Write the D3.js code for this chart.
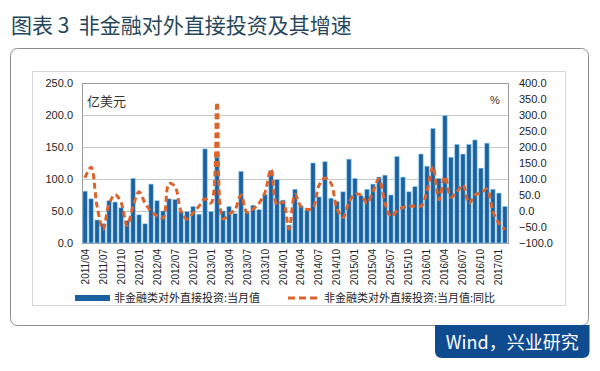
<!DOCTYPE html>
<html lang="zh">
<head>
  <meta charset="UTF-8">
  <title>非金融对外直接投资及其增速</title>
  <script src="https://d3js.org/d3.v7.min.js"></script>
  <style>
    html, body {
      margin: 0;
      padding: 0;
      background: #fff;
    }

    #svgScene {
      display: block;
      width: 600px;
      height: 371px;
    }

    .axis text {
      font-family: "Liberation Sans", Arial, sans-serif;
      fill: #222;
    }

    .axis path, .axis line {
      stroke: none;
    }

    .title {
      white-space: pre;
    }
  </style>
</head>
<body>
  <svg id="svgScene" width="600" height="371"></svg>

  <script>
    // monthly data, 2011/04 .. 2017/02
    const months = [
      "2011/04","2011/05","2011/06","2011/07","2011/08","2011/09","2011/10","2011/11","2011/12",
      "2012/01","2012/02","2012/03","2012/04","2012/05","2012/06","2012/07","2012/08","2012/09","2012/10","2012/11","2012/12",
      "2013/01","2013/02","2013/03","2013/04","2013/05","2013/06","2013/07","2013/08","2013/09","2013/10","2013/11","2013/12",
      "2014/01","2014/02","2014/03","2014/04","2014/05","2014/06","2014/07","2014/08","2014/09","2014/10","2014/11","2014/12",
      "2015/01","2015/02","2015/03","2015/04","2015/05","2015/06","2015/07","2015/08","2015/09","2015/10","2015/11","2015/12",
      "2016/01","2016/02","2016/03","2016/04","2016/05","2016/06","2016/07","2016/08","2016/09","2016/10","2016/11","2016/12",
      "2017/01","2017/02"
    ];

    // 当月值, 亿美元
    const monthValues = [
      81, 69, 36, 30, 66, 64, 55, 35, 101,
      44, 30, 92, 66, 50, 69, 68, 49, 49, 57, 45, 147,
      49, 134, 50, 57, 46, 112, 49, 59, 52, 76, 113, 99,
      67, 28, 84, 58, 51, 125, 72, 127, 70, 65, 80, 131,
      101, 74, 84, 92, 103, 106, 75, 135, 103, 80, 88, 139,
      120, 179, 101, 199, 134, 154, 139, 154, 161, 117, 156, 84,
      78, 57
    ];

    // 当月值:同比, %
    const yoyValues = [
      104, 137, 15, -57, 22, 51, 27, -45, 15,
      60, 25, -1, -15, -22, 86, 76, -1, -25, -6, 15, 38,
      25, 340, -25, -10, 4, 50, -4, 6, 24, 58, 130, 20,
      28, -56, 52, 14, 5, 10, 80, 103, 87, 7, -20, 27,
      53, 50, 25, 61, 100, 25, -17, 1, 11, 15, 15, 15,
      61, 139, 35, 108, 43, 60, 81, 24, 50, 56, 69, -1,
      -39, -58
    ];

    const leftTicks = [0, 50, 100, 150, 200, 250];
    const rightTicks = [-100, -50, 0, 50, 100, 150, 200, 250, 300, 350, 400];
    const xTickLabels = months.filter((m, i) => i % 3 === 0);

    const barName = "非金融类对外直接投资:当月值";
    const lineName = "非金融类对外直接投资:当月值:同比";

    const svgScene = d3.select("#svgScene");
    const cjkFont = '"Noto Sans CJK SC", "Noto Sans", sans-serif';

    const plot = { left: 82, right: 508, top: 83, bottom: 243 };

    const xScale = d3.scaleBand()
      .domain(months)
      .range([plot.left, plot.right])
      .paddingInner(0.28)
      .paddingOuter(0.15);

    const yLeft = d3.scaleLinear().domain([0, 250]).range([plot.bottom, plot.top]);
    const yRight = d3.scaleLinear().domain([-100, 400]).range([plot.bottom, plot.top]);

    drawFrame();
    drawGrid();
    drawBars();
    drawLine();
    drawAxes();
    drawLegend();

    function drawFrame() {
      svgScene.append("text")
        .attr("class", "title")
        .attr("x", 11)
        .attr("y", 33)
        .attr("font-family", cjkFont)
        .attr("font-size", 21)
        .attr("fill", "#26465a")
        .text("图表 3  非金融对外直接投资及其增速");

      // outer rounded box
      svgScene.append("rect")
        .attr("x", 10.5).attr("y", 48.5)
        .attr("width", 578).attr("height", 277)
        .attr("rx", 7)
        .attr("fill", "#fff")
        .attr("stroke", "#8c8c8c");

      // source badge
      const bx = 435, by = 325, bw = 154.5, bh = 33, r = 7;
      svgScene.append("path")
        .attr("d", `M${bx},${by} H${bx + bw} V${by + bh - r} Q${bx + bw},${by + bh} ${bx + bw - r},${by + bh}
                    H${bx + r} Q${bx},${by + bh} ${bx},${by + bh - r} Z`)
        .attr("fill", "#0f4b8f");

      svgScene.append("text")
        .attr("x", bx + bw / 2)
        .attr("y", by + 24)
        .attr("text-anchor", "middle")
        .attr("font-family", cjkFont)
        .attr("font-size", 18)
        .attr("fill", "#fff")
        .text("Wind，兴业研究");

      // chart area
      svgScene.append("rect")
        .attr("x", 32.5).attr("y", 71.5)
        .attr("width", 533).attr("height", 234)
        .attr("fill", "#fff")
        .attr("stroke", "#d6d6d6");
    }

    function drawGrid() {
      svgScene.append("g")
        .selectAll("line")
        .data(leftTicks.slice(1, -1))
        .join("line")
        .attr("x1", plot.left).attr("x2", plot.right)
        .attr("y1", d => Math.round(yLeft(d)) + 0.5)
        .attr("y2", d => Math.round(yLeft(d)) + 0.5)
        .attr("stroke", "#c8c8c8");

      svgScene.append("rect")
        .attr("x", plot.left + 0.5).attr("y", plot.top + 0.5)
        .attr("width", plot.right - plot.left)
        .attr("height", plot.bottom - plot.top)
        .attr("fill", "none")
        .attr("stroke", "#9a9a9a");
    }

    function drawBars() {
      svgScene.append("g")
        .selectAll("rect")
        .data(months)
        .join("rect")
        .attr("x", d => xScale(d))
        .attr("width", xScale.bandwidth())
        .attr("y", (d, i) => yLeft(monthValues[i]))
        .attr("height", (d, i) => yLeft(0) - yLeft(monthValues[i]))
        .attr("fill", "#1a61a2")
        .attr("stroke", "#8cc8ea")
        .attr("stroke-width", 0.6);
    }

    function drawLine() {
      const line = d3.line()
        .x((d, i) => xScale(months[i]) + xScale.bandwidth() / 2)
        .y(d => yRight(d))
        .curve(d3.curveCatmullRom.alpha(0.5));

      svgScene.append("path")
        .datum(yoyValues)
        .attr("d", line)
        .attr("fill", "none")
        .attr("stroke", "#dc642c")
        .attr("stroke-width", 3)
        .attr("stroke-dasharray", "6,3.5");
    }

    function drawAxes() {
      svgScene.append("g")
        .attr("class", "axis")
        .attr("transform", `translate(${plot.left - 6},0)`)
        .call(d3.axisLeft(yLeft).tickValues(leftTicks).tickSize(0).tickFormat(d3.format(".1f")))
        .selectAll("text")
        .attr("font-size", 11);

      svgScene.append("g")
        .attr("class", "axis")
        .attr("transform", `translate(${plot.right + 8},0)`)
        .call(d3.axisRight(yRight).tickValues(rightTicks).tickSize(0).tickFormat(d3.format(".1f")))
        .selectAll("text")
        .attr("font-size", 11);

      const xAxis = svgScene.append("g")
        .attr("class", "axis")
        .attr("transform", `translate(0,${plot.bottom + 4})`)
        .call(d3.axisBottom(xScale).tickValues(xTickLabels).tickSize(0));

      xAxis.selectAll("text")
        .attr("font-size", 10)
        .attr("transform", "rotate(-90)")
        .attr("text-anchor", "end")
        .attr("x", -2)
        .attr("y", 0)
        .attr("dy", "0.35em");

      svgScene.append("text")
        .attr("x", 87).attr("y", 106)
        .attr("font-family", cjkFont)
        .attr("font-size", 13)
        .attr("fill", "#333")
        .text("亿美元");

      svgScene.append("text")
        .attr("x", 490).attr("y", 104)
        .attr("font-family", "Liberation Sans, Arial, sans-serif")
        .attr("font-size", 11)
        .attr("fill", "#333")
        .text("%");
    }

    function drawLegend() {
      const ly = 298;

      svgScene.append("rect")
        .attr("x", 75).attr("y", ly - 3)
        .attr("width", 35).attr("height", 6)
        .attr("fill", "#1a61a2");

      svgScene.append("text")
        .attr("x", 114).attr("y", ly + 4)
        .attr("font-family", cjkFont)
        .attr("font-size", 11)
        .attr("fill", "#222")
        .text(barName);

      svgScene.append("line")
        .attr("x1", 288).attr("x2", 320)
        .attr("y1", ly).attr("y2", ly)
        .attr("stroke", "#dc642c")
        .attr("stroke-width", 3)
        .attr("stroke-dasharray", "7,4");

      svgScene.append("text")
        .attr("x", 324).attr("y", ly + 4)
        .attr("font-family", cjkFont)
        .attr("font-size", 11)
        .attr("fill", "#222")
        .text(lineName);
    }
  </script>
</body>
</html>
